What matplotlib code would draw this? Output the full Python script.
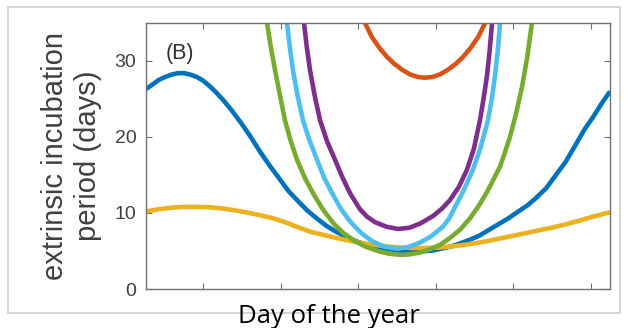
import matplotlib
matplotlib.use("Agg")
import matplotlib.pyplot as plt
from matplotlib.patches import Rectangle

# Slowly varying curves
days_blue = [0, 5, 10, 15, 20, 25, 30, 35, 40, 45, 50, 55, 60, 67, 75, 82, 90,
             97, 105, 112, 120, 127, 135, 142, 150, 157, 165, 172, 180, 187,
             195, 202, 210, 217, 225, 232, 240, 247, 255, 262, 270, 277, 285,
             292, 300, 307, 315, 322, 330, 337, 345, 352, 358, 365]
eip_blue = [26.3, 26.9, 27.5, 27.9, 28.2, 28.4, 28.4, 28.2, 27.9, 27.4, 26.7,
            25.9, 25.0, 23.6, 21.8, 20.1, 18.0, 16.3, 14.5, 12.9, 11.5, 10.3,
            9.2, 8.3, 7.5, 6.9, 6.3, 5.9, 5.6, 5.35, 5.15, 5.0, 4.95, 4.95,
            5.05, 5.3, 5.6, 6.0, 6.5, 7.0, 7.8, 8.5, 9.3, 10.1, 11.0, 12.0,
            13.3, 14.9, 16.7, 18.7, 21.0, 22.7, 24.3, 26.0]

days_yellow = [0, 10, 20, 30, 40, 50, 60, 70, 80, 90, 100, 110, 120, 130, 140,
               150, 160, 170, 180, 190, 200, 210, 220, 230, 240, 250, 260, 270,
               280, 290, 300, 310, 320, 330, 340, 350, 365]
eip_yellow = [10.2, 10.5, 10.7, 10.8, 10.8, 10.75, 10.6, 10.35, 10.05, 9.7,
              9.3, 8.75, 8.1, 7.5, 7.1, 6.7, 6.35, 6.05, 5.8, 5.6, 5.45, 5.4,
              5.4, 5.45, 5.6, 5.8, 6.05, 6.35, 6.7, 7.05, 7.4, 7.75, 8.1, 8.5,
              8.95, 9.45, 10.1]

# U-shaped curves (values above 35 run off the top of the axes)
days_green = [90, 93, 95.2, 98, 101.5, 105, 109.3, 114, 118.8, 125, 131.4,
              139, 147.1, 155, 164.4, 173, 182.5, 191, 199.8, 207, 215.5, 223,
              231.3, 239, 247, 254.9, 262, 268, 273, 278.5, 282, 286.3, 291,
              295.8, 300, 303.6, 307]
eip_green = [39.6, 37.0, 35.0, 32.0, 28.8, 25.8, 22.2, 19.4, 17.0, 14.6, 12.6,
             10.5, 8.7, 7.4, 6.3, 5.55, 5.0, 4.65, 4.5, 4.55, 4.8, 5.2, 5.8,
             6.7, 7.8, 9.3, 11.0, 12.7, 14.3, 16.1, 17.8, 20.0, 23.0, 26.6,
             30.6, 35.0, 39.0]

days_lightblue = [106, 108.5, 110.9, 113, 115.6, 119, 123.5, 128.5, 134.5,
                  140.5, 147.1, 153.5, 160.5, 169, 177.8, 187, 197.4, 206,
                  215.5, 224, 233.6, 238.5, 243.1, 250, 257.2, 263, 269, 272,
                  274.5, 276.7, 278.5, 280.5]
eip_lightblue = [41.5, 38.0, 35.0, 32.0, 28.8, 25.6, 22.2, 19.6, 17.0, 14.5,
                 12.4, 10.5, 8.9, 7.4, 6.3, 5.6, 5.3, 5.5, 6.1, 6.9, 8.2, 9.3,
                 10.8, 13.0, 15.7, 18.5, 22.2, 25.0, 28.0, 31.3, 35.0, 39.0]

days_purple = [119.5, 121.8, 124.3, 126.5, 129, 132.5, 136.9, 142.5, 148.7,
               154.5, 160.5, 168.3, 174, 180.1, 189, 198.2, 207, 215.5, 225.8,
               233, 239.1, 246, 252.5, 258, 262.7, 265.5, 268.2, 270.3, 272.2,
               274]
eip_purple = [41.5, 38.0, 35.0, 31.8, 28.8, 25.6, 22.2, 19.4, 17.0, 14.7, 12.6,
              10.5, 9.5, 8.8, 8.2, 7.9, 8.05, 8.6, 9.6, 10.6, 11.7, 13.4, 15.7,
              18.5, 22.2, 25.0, 28.0, 31.3, 35.0, 39.0]

days_orange = [166.5, 169.5, 172.3, 177.5, 183.5, 189.5, 195.5, 201.5, 207.5,
               213.5, 219.5, 225.5, 231.5, 237.5, 243.5, 249.5, 255.5, 261.5,
               266.7, 269.5, 272.5]
eip_orange = [37.6, 36.2, 35.0, 33.2, 31.75, 30.55, 29.6, 28.85, 28.25, 27.9,
              27.8, 27.9, 28.25, 28.85, 29.6, 30.55, 31.75, 33.2, 35.0, 36.2,
              37.6]

x_ticks = [45, 106, 167, 228, 289, 350]
y_ticks = [0, 10, 20, 30]

fig = plt.figure(figsize=(6.31, 3.28), dpi=100)
fig.patch.set_facecolor("white")

# light frame around the whole panel
fig.patches.append(Rectangle((0.0127, 0.0457), 0.9699, 0.933,
                             transform=fig.transFigure, fill=False,
                             edgecolor="#d2d2d2", linewidth=1.3))

ax = fig.add_axes([0.2314, 0.1189, 0.7353, 0.811])
lw = 3.3
style = dict(lw=lw, solid_capstyle="butt", solid_joinstyle="round")
ax.plot(days_blue, eip_blue, color="#0072BD", **style)
ax.plot(days_orange, eip_orange, color="#D95319", **style)
ax.plot(days_yellow, eip_yellow, color="#EDB120", **style)
ax.plot(days_purple, eip_purple, color="#7E2F8E", **style)
ax.plot(days_green, eip_green, color="#77AC30", **style)
ax.plot(days_lightblue, eip_lightblue, color="#4DBEEE", **style)

ax.set_xlim(0, 365)
ax.set_ylim(0, 35)
ax.set_xticks(x_ticks)
ax.set_xticklabels([])
ax.set_yticks(y_ticks)
ax.tick_params(direction="in", length=4, width=0.8, color="#707070",
               top=True, right=True, labelsize=14, labelcolor="#404040",
               pad=7)
for s in ax.spines.values():
    s.set_color("#707070")
    s.set_linewidth(1.0)

ax.set_ylabel("extrinsic incubation\nperiod (days)", fontsize=21,
              color="#404040", family="Liberation Sans", labelpad=9,
              linespacing=1.25)
for t in ax.get_yticklabels():
    t.set_family("Liberation Sans")

ax.text(0.043, 0.885, "(B)", transform=ax.transAxes, fontsize=15.5,
        color="#303030", family="Liberation Sans", va="center", ha="left")

fig.text(0.522, 0.034, "Day of the year", fontsize=18.5, color="black",
         family="Open Sans", ha="center", va="center")

fig.savefig("out.png", dpi=100)
